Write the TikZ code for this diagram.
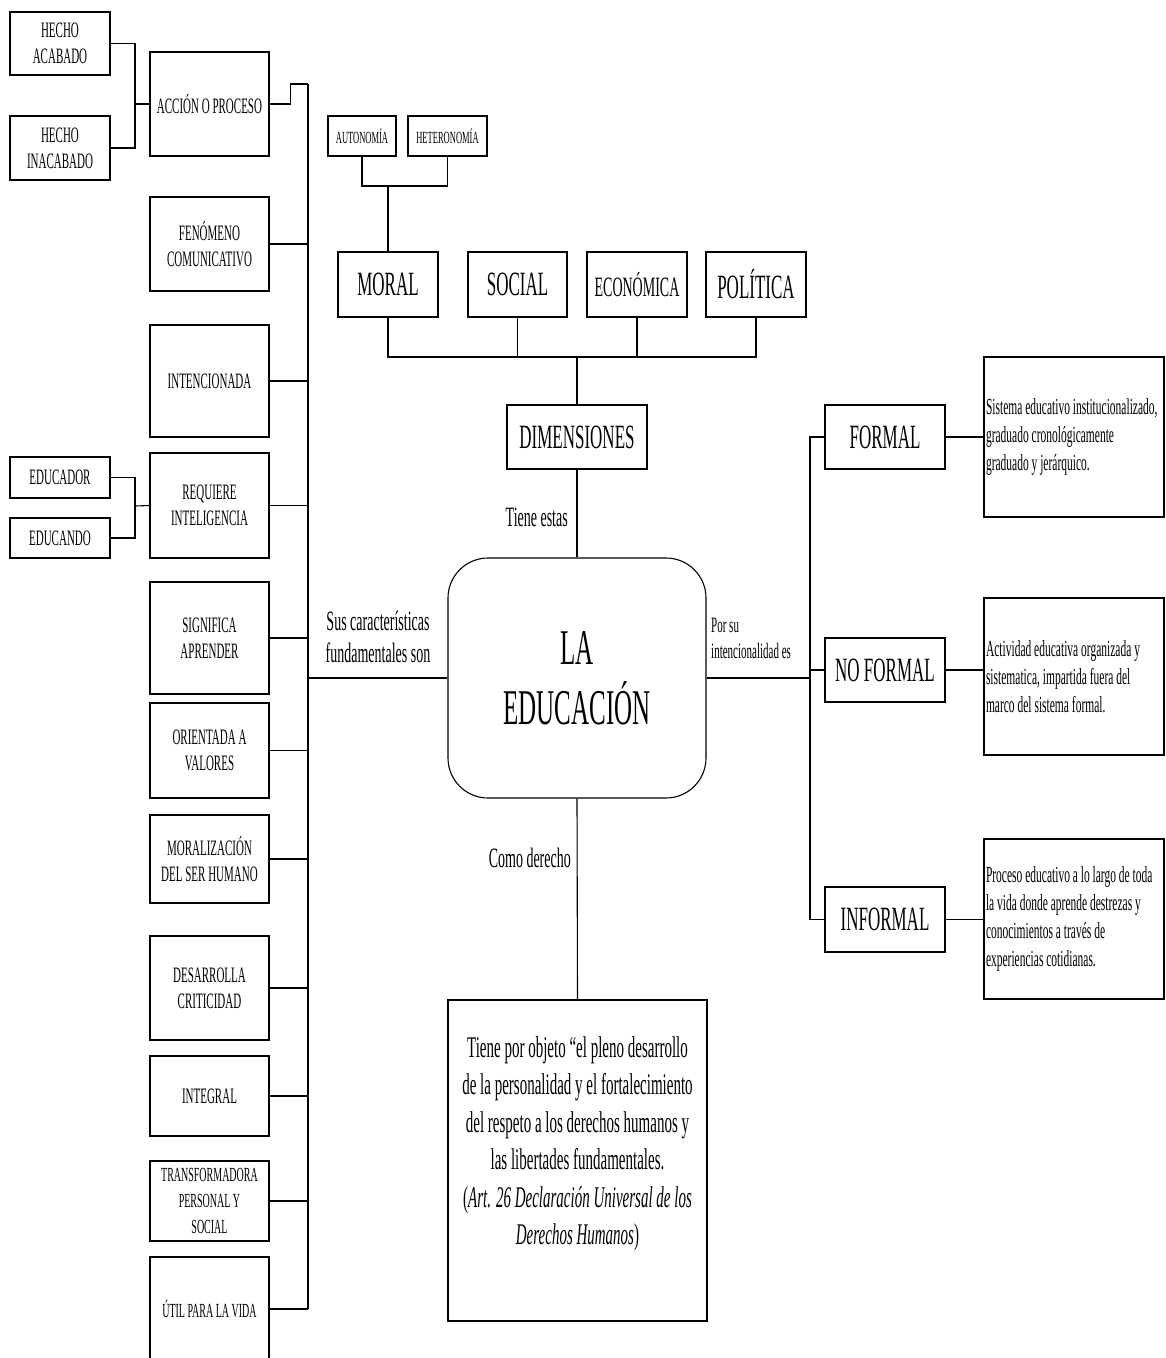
\documentclass[tikz,border=0pt]{standalone}
\usepackage{fontspec}
\setmainfont{Liberation Serif}[FakeStretch=0.5]

\begin{document}
\begin{tikzpicture}[x=1pt,y=-1pt,
    box/.style={draw,rectangle,line width=1.1pt,inner sep=0pt,align=center},
    sz/.style 2 args={minimum width=#1pt,minimum height=#2pt},
    hv/.style={to path={-| (\tikztotarget)}},
    vh/.style={to path={|- (\tikztotarget)}}]
    \useasboundingbox (0,0) rectangle (1166,1358);

    % left side
    \begin{scope}[every node/.style={box,font=\fontsize{22}{26}\selectfont}]
        \node[sz={100}{63}] (hA) at (60,43.5) {HECHO\\ACABADO};
        \node[sz={100}{64}] (hI) at (60,148) {HECHO\\INACABADO};
        \node[sz={100}{41}] (edr) at (60,477.5) {EDUCADOR};
        \node[sz={100}{40}] (edn) at (60,538) {EDUCANDO};

        \node[sz={119}{104}] (acc) at (209.5,104) {ACCIÓN O PROCESO};
        \node[sz={119}{94}] (fen) at (209.5,244) {FENÓMENO\\COMUNICATIVO};
        \node[sz={119}{112}] (inten) at (209.5,381) {INTENCIONADA};
        \node[sz={119}{105}] (req) at (209.5,505.5) {REQUIERE\\INTELIGENCIA};
        \node[sz={119}{112}] (sig) at (209.5,638) {SIGNIFICA\\APRENDER};
        \node[sz={119}{95}] (ori) at (209.5,750.5) {ORIENTADA A\\VALORES};
        \node[sz={119}{88}] (mrz) at (209.5,859) {MORALIZACIÓN\\DEL SER HUMANO};
        \node[sz={119}{104}] (des) at (209.5,988) {DESARROLLA\\CRITICIDAD};
        \node[sz={119}{80}] (integ) at (209.5,1096) {INTEGRAL};
        \node[sz={119}{80},font=\fontsize{20}{26}\selectfont] (trans) at (209.5,1201) {TRANSFORMADORA\\PERSONAL Y\\SOCIAL};
        \node[sz={119}{104},font=\fontsize{20}{26}\selectfont] (util) at (209.5,1309) {ÚTIL PARA LA VIDA};
    \end{scope}

    % dimensions and kinds
    \begin{scope}[every node/.style={box,font=\fontsize{34}{40}\selectfont}]
        \node[sz={68}{40},font=\fontsize{17}{20}\selectfont] (auto) at (362,136) {AUTONOMÍA};
        \node[sz={79}{40},font=\fontsize{17}{20}\selectfont] (het) at (447.5,136) {HETERONOMÍA};
        \node[sz={100}{65}] (mor) at (388,284.5) {MORAL};
        \node[sz={99}{65}] (soc) at (517.5,284.5) {SOCIAL};
        \node[sz={100}{65},font=\fontsize{28}{32}\selectfont] (eco) at (637,284.5) {ECONÓMICA};
        \node[sz={100}{65}] (pol) at (756,284.5) {POLÍTICA};
        \node[sz={140}{64}] (dim) at (577,437) {DIMENSIONES};

        \node[sz={120}{64}] (frm) at (885,437) {FORMAL};
        \node[sz={120}{64}] (nfrm) at (885,670) {NO FORMAL};
        \node[sz={120}{65}] (ifrm) at (885,919.5) {INFORMAL};
    \end{scope}

    \node[box,rounded corners=40pt,sz={258}{240},font=\fontsize{50}{60}\selectfont] (edu) at (577,678) {LA\\EDUCACIÓN};

    % descriptions
    \begin{scope}[every node/.style={box,text width=176pt,inner xsep=2pt,align=flush left,font=\fontsize{23}{28}\selectfont}]
        \node[sz={180}{160}] (dF) at (1074,437) {Sistema educativo institucionalizado,\\graduado cronológicamente\\graduado y jerárquico.};
        \node[sz={180}{157}] (dN) at (1074,676.5) {Actividad educativa organizada y\\sistematica, impartida fuera del\\marco del sistema formal.};
        \node[sz={180}{160}] (dI) at (1074,919) {Proceso educativo a lo largo de toda\\la vida donde aprende destrezas y\\conocimientos a través de\\experiencias cotidianas.};
    \end{scope}

    \node[box,sz={259}{321}] (obj) at (577.5,1160.5) {};
    \node[align=center,inner sep=0pt,font=\fontsize{30}{37.5}\selectfont] (objtxt) at (577.5,1144) {Tiene por objeto “el pleno desarrollo\\de la personalidad y el fortalecimiento\\del respeto a los derechos humanos y\\las libertades fundamentales.\\(\textit{Art. 26 Declaración Universal de los}\\\textit{Derechos Humanos})};

    % connector labels
    \node[anchor=east,inner sep=0pt,font=\fontsize{28}{32}\selectfont] (tiene) at (568,517) {Tiene estas};
    \node[anchor=east,inner sep=0pt,font=\fontsize{28}{32}\selectfont] (como) at (571,858) {Como derecho};
    \node[align=center,inner sep=0pt,font=\fontsize{28}{32}\selectfont] (sus) at (378,637) {Sus características\\fundamentales son};
    \node[anchor=west,align=left,inner sep=0pt,font=\fontsize{22}{26}\selectfont] (por) at (711,638) {Por su\\intencionalidad es};

    \coordinate (t1) at (308,84);
    \coordinate (t2) at (308,1309);
    \coordinate (j1) at (135,104);
    \coordinate (j2) at (135,506);
    \coordinate (j3) at (388,186);
    \coordinate (j4) at (577,357);
    \coordinate (j5) at (810,678);

    \begin{scope}[every edge/.style={draw=black,line width=1.1pt}]
        \path (hA.east) edge[hv] (j1);
        \path (hI.east) edge[hv] (j1);
        \path (j1) edge (acc.west);
        \path (edr.east) edge[hv] (j2);
        \path (edn.east) edge[hv] (j2);
        \path (j2) edge (req.west);

        \path (acc.east) edge[to path={-- ++(21,0) |- (\tikztotarget)}] (t1);
        \path (t1) edge (t2);
        \path (fen.east) edge (fen.east -| t1);
        \path (inten.east) edge (inten.east -| t1);
        \path (req.east) edge (req.east -| t1);
        \path (sig.east) edge (sig.east -| t1);
        \path (ori.east) edge (ori.east -| t1);
        \path (mrz.east) edge (mrz.east -| t1);
        \path (des.east) edge (des.east -| t1);
        \path (integ.east) edge (integ.east -| t1);
        \path (trans.east) edge (trans.east -| t1);
        \path (util.east) edge (util.east -| t1);
        \path (edu.west) edge (edu.west -| t1);

        \path (auto.south) edge[vh] (j3);
        \path (het.south) edge[vh] (j3);
        \path (j3) edge (mor.north);
        \path (mor.south) edge[vh] (j4);
        \path (soc.south) edge[vh] (j4);
        \path (eco.south) edge[vh] (j4);
        \path (pol.south) edge[vh] (j4);
        \path (j4) edge (dim.north);
        \path (dim.south) edge (edu.north);
        \path (edu.south) edge (obj.north);

        \path (edu.east) edge (j5);
        \path (frm.west) edge[hv] (j5);
        \path (nfrm.west) edge[hv] (j5);
        \path (ifrm.west) edge[hv] (j5);
        \path (frm.east) edge (frm.east -| dF.west);
        \path (nfrm.east) edge (nfrm.east -| dN.west);
        \path (ifrm.east) edge (ifrm.east -| dI.west);
    \end{scope}
\end{tikzpicture}
\end{document}
